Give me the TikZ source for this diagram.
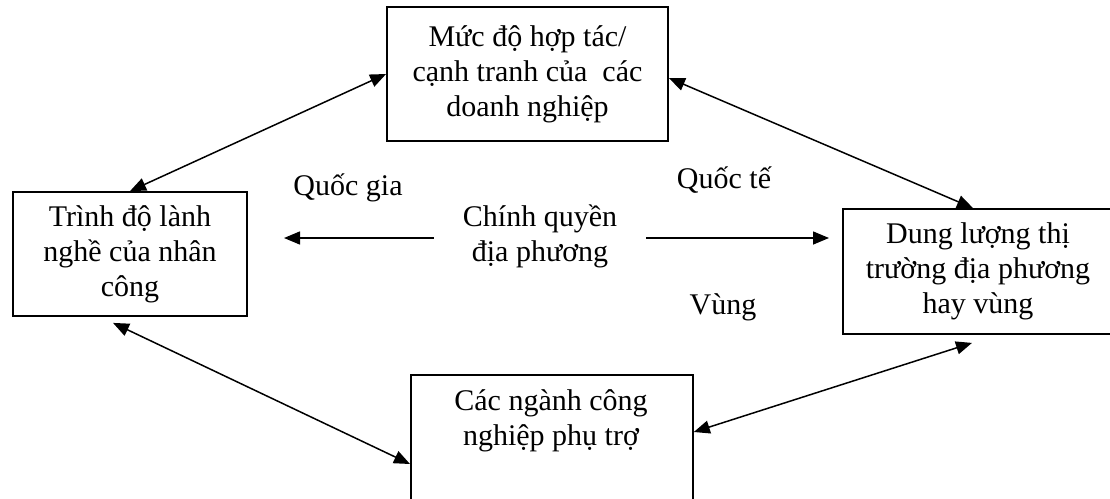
\documentclass[tikz,border=0pt]{standalone}
\usepackage{fontspec}
\setmainfont{Liberation Serif}
\usetikzlibrary{arrows.meta}
\begin{document}
\begin{tikzpicture}[x=1pt,y=-1pt,
  box/.style={draw=black, line width=1.8pt, rectangle, inner sep=0pt, align=center,
    font=\fontsize{30}{35}\selectfont},
  txt/.style={inner sep=0pt, align=center, font=\fontsize{30}{35}\selectfont},
  link/.style={line width=1.5pt, {Triangle[length=16pt,width=13pt]}-{Triangle[length=16pt,width=13pt]}},
  oneway/.style={line width=1.5pt, -{Triangle[length=16pt,width=13pt]}}]
\useasboundingbox (0,0) rectangle (1110,498);
\clip (0,0) rectangle (1110,498);
\fill[white] (0,0) rectangle (1110,498);
% boxes
\node[box, minimum width=281pt, minimum height=134pt] (top) at (527.5,74)
  {Mức độ hợp tác/\\cạnh tranh của\ \ các\\doanh nghiệp};
\node[box, minimum width=234pt, minimum height=124pt] (left) at (130,254)
  {Trình độ lành\\nghề của nhân\\công};
\node[box, minimum width=270pt, minimum height=125pt] (right) at (978,271.5)
  {Dung lượng thị\\trường địa phương\\hay vùng};
\node[box, minimum width=282pt, minimum height=150pt, anchor=north west] (bot) at (410,374) {};
\node[txt] (bottxt) at (551,421) {Các ngành công\\nghiệp phụ trợ};
% centre
\node[txt] (gov) at (540,236) {Chính quyền\\địa phương};
\node[txt] (qg) at (348,188) {Quốc gia};
\node[txt] (qt) at (724,180) {Quốc tế};
\node[txt] (vung) at (723,307) {Vùng};
\coordinate (qgend) at (284,238);
\coordinate (qtend) at (829,238);
\draw[oneway] ([xshift=-29pt,yshift=-2pt]gov.west) -- (qgend);
\draw[oneway] ([xshift=29pt,yshift=-2pt]gov.east) -- (qtend);
% links
\draw[link] (left.north) -- (top.west);
\draw[link] ([yshift=-4pt]top.east) -- ([xshift=-5pt]right.north);
\draw[link] ([xshift=-17pt,yshift=-6pt]left.south) -- ([yshift=-90pt]bot.north west);
\draw[link] ([yshift=-58pt]bot.north east) -- ([xshift=-6pt,yshift=-8pt]right.south);
\end{tikzpicture}
\end{document}
